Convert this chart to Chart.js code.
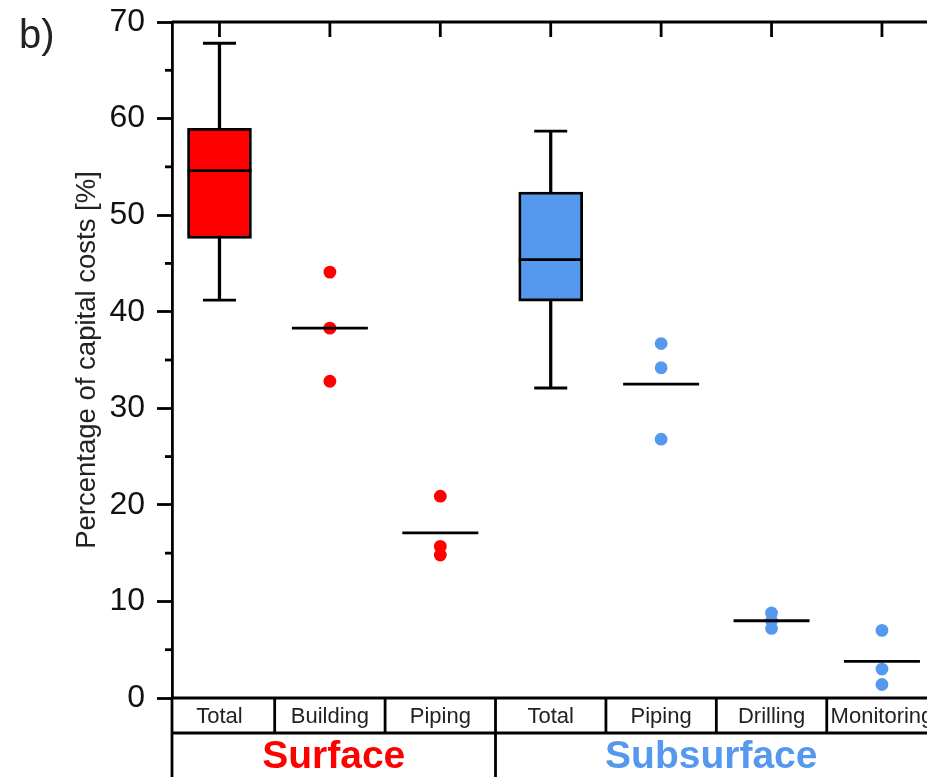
<!DOCTYPE html>
<html>
<head>
<meta charset="utf-8">
<script src="https://cdn.jsdelivr.net/npm/chart.js@4"></script>
<style>
  html, body { margin: 0; padding: 0; background: #fff; }
  #wrap { position: relative; width: 927px; height: 777px; }
</style>
</head>
<body>
<div id="wrap"><canvas id="chart"></canvas></div>
<script>
"use strict";

// Categories along the bottom table (left to right)
const categories = ["Total", "Building", "Piping", "Total", "Piping", "Drilling", "Monitoring"];
const groupLabels = ["Surface", "Subsurface"];
const groupFirstCat = [0, 3];   // index of first category in each group
const groupLastCat = [2, 6];
const groupColors = ["#ff0000", "#5599ee"];

// Box plots (Total columns): surface, subsurface
const boxCat = [0, 3];
const boxMin = [41.2, 32.1];
const boxQ1 = [47.6, 41.1];
const boxMedian = [54.6, 45.4];
const boxQ3 = [59.0, 52.4];
const boxMax = [67.8, 58.7];

// Individual values for the sub-categories
const surfaceBuilding = [44.1, 38.3, 32.8];
const surfacePiping = [20.9, 15.7, 14.8];
const subsurfacePiping = [36.7, 34.2, 26.8];
const subsurfaceDrilling = [8.8, 8.0, 7.2];
const subsurfaceMonitoring = [7.0, 3.0, 1.4];

// Mean bars drawn over the dots
const meanCat = [1, 2, 4, 5, 6];
const meanValues = [38.3, 17.1, 32.5, 8.0, 3.8];

const yTicksMajor = [0, 10, 20, 30, 40, 50, 60, 70];

const FONT = "'Liberation Sans', Arial, sans-serif";
const LW = 2.8;

// category index -> x value on linear axis
const cx = (i) => i + 1;
const pts = (cat, values) => values.map((v) => ({ x: cx(cat), y: v }));

const framePlugin = {
  id: "frame",
  afterDraw(chart) {
    const { ctx, chartArea: a, scales } = chart;
    const xs = scales.x, ys = scales.y;
    const H = chart.height;
    const rowH = 35;
    ctx.save();
    ctx.strokeStyle = "#000";
    ctx.lineWidth = LW;
    ctx.lineCap = "butt";

    const line = (x1, y1, x2, y2) => {
      ctx.beginPath();
      ctx.moveTo(x1, y1);
      ctx.lineTo(x2, y2);
      ctx.stroke();
    };

    // top axis + inward ticks
    line(a.left, a.top, a.right, a.top);
    categories.forEach((c, i) => {
      const px = xs.getPixelForValue(cx(i));
      line(px, a.top, px, a.top + 15);
    });

    // minor y ticks
    for (let v = 5; v < 70; v += 10) {
      const py = ys.getPixelForValue(v);
      line(a.left - 7, py, a.left, py);
    }

    // bottom axis / table
    line(a.left, a.bottom, a.right, a.bottom);
    line(a.left, a.bottom + rowH, a.right, a.bottom + rowH);
    line(a.left, a.bottom, a.left, H);
    for (let i = 0; i < categories.length - 1; i++) {
      const px = xs.getPixelForValue(cx(i) + 0.5);
      const isGroupEdge = groupLastCat.includes(i);
      line(px, a.bottom, px, isGroupEdge ? H : a.bottom + rowH);
    }

    // category labels
    ctx.font = "22px " + FONT;
    ctx.fillStyle = "#222";
    ctx.textAlign = "center";
    ctx.textBaseline = "middle";
    categories.forEach((c, i) => {
      ctx.fillText(c, xs.getPixelForValue(cx(i)), a.bottom + rowH / 2 + 1);
    });

    // group labels
    ctx.font = "bold 39px " + FONT;
    ctx.textBaseline = "alphabetic";
    groupLabels.forEach((g, k) => {
      const l = groupFirstCat[k] === 0 ? a.left : xs.getPixelForValue(cx(groupFirstCat[k]) - 0.5);
      const r = groupLastCat[k] === categories.length - 1 ? a.right : xs.getPixelForValue(cx(groupLastCat[k]) + 0.5);
      ctx.fillStyle = groupColors[k];
      ctx.fillText(g, (l + r) / 2, H - 9);
    });

    // panel letter
    ctx.font = "40px " + FONT;
    ctx.fillStyle = "#222";
    ctx.textAlign = "left";
    ctx.fillText("b)", 19, 48);
    ctx.restore();
  },
};

const lineMark = (data, radius) => ({
  type: "scatter",
  data,
  pointStyle: "line",
  pointRadius: radius,
  pointHoverRadius: radius,
  pointBorderColor: "#000",
  pointBorderWidth: LW,
  borderColor: "#000",
});

new Chart(document.getElementById("chart"), {
  type: "bar",
  data: {
    datasets: [
      Object.assign(lineMark(meanCat.map((c, i) => ({ x: cx(c), y: meanValues[i] })), 38), { order: 0 }),
      Object.assign(lineMark(boxCat.map((c, i) => ({ x: cx(c), y: boxMedian[i] })), 32), { order: 1 }),
      {
        type: "scatter",
        order: 2,
        data: [...pts(1, surfaceBuilding), ...pts(2, surfacePiping)],
        pointRadius: 6.4,
        pointBackgroundColor: groupColors[0],
        pointBorderWidth: 0,
      },
      {
        type: "scatter",
        order: 2,
        data: [...pts(4, subsurfacePiping), ...pts(5, subsurfaceDrilling), ...pts(6, subsurfaceMonitoring)],
        pointRadius: 6.4,
        pointBackgroundColor: groupColors[1],
        pointBorderWidth: 0,
      },
      {
        type: "bar",
        order: 3,
        data: boxCat.map((c, i) => ({ x: cx(c), y: [boxQ1[i], boxQ3[i]] })),
        backgroundColor: groupColors,
        borderColor: "#000",
        borderWidth: LW,
        borderSkipped: false,
        barThickness: 64,
        grouped: false,
      },
      Object.assign(
        lineMark([
          ...boxCat.map((c, i) => ({ x: cx(c), y: boxMin[i] })),
          ...boxCat.map((c, i) => ({ x: cx(c), y: boxMax[i] })),
        ], 16.5),
        { order: 4 }
      ),
      {
        type: "bar",
        order: 5,
        data: boxCat.map((c, i) => ({ x: cx(c), y: [boxMin[i], boxMax[i]] })),
        backgroundColor: "#000",
        borderWidth: 0,
        barThickness: 2.6,
        grouped: false,
      },
    ],
  },
  options: {
    responsive: true,
    maintainAspectRatio: false,
    animation: false,
    events: [],
    layout: { autoPadding: false, padding: { top: 22, bottom: 79, left: 0, right: 0 } },
    plugins: { legend: { display: false }, tooltip: { enabled: false } },
    scales: {
      x: { type: "linear", display: false, offset: false, min: 0.57, max: 7.408 },
      y: {
        type: "linear",
        min: 0,
        max: 70,
        afterFit(s) {
          s.width = 172;
          s.paddingTop = 0;
          s.paddingBottom = 0;
        },
        afterBuildTicks(s) { s.ticks = yTicksMajor.map((v) => ({ value: v })); },
        ticks: {
          padding: 12,
          color: "#111",
          font: { family: FONT, size: 32 },
        },
        grid: {
          drawOnChartArea: false,
          drawTicks: true,
          tickLength: 15,
          tickWidth: LW,
          tickColor: "#000",
        },
        border: { display: true, color: "#000", width: LW },
        title: {
          display: true,
          text: "Percentage of capital costs [%]",
          color: "#222",
          font: { family: FONT, size: 27.5 },
          padding: { top: 71, bottom: 0 },
        },
      },
    },
  },
  plugins: [framePlugin],
});
</script>
</body>
</html>
